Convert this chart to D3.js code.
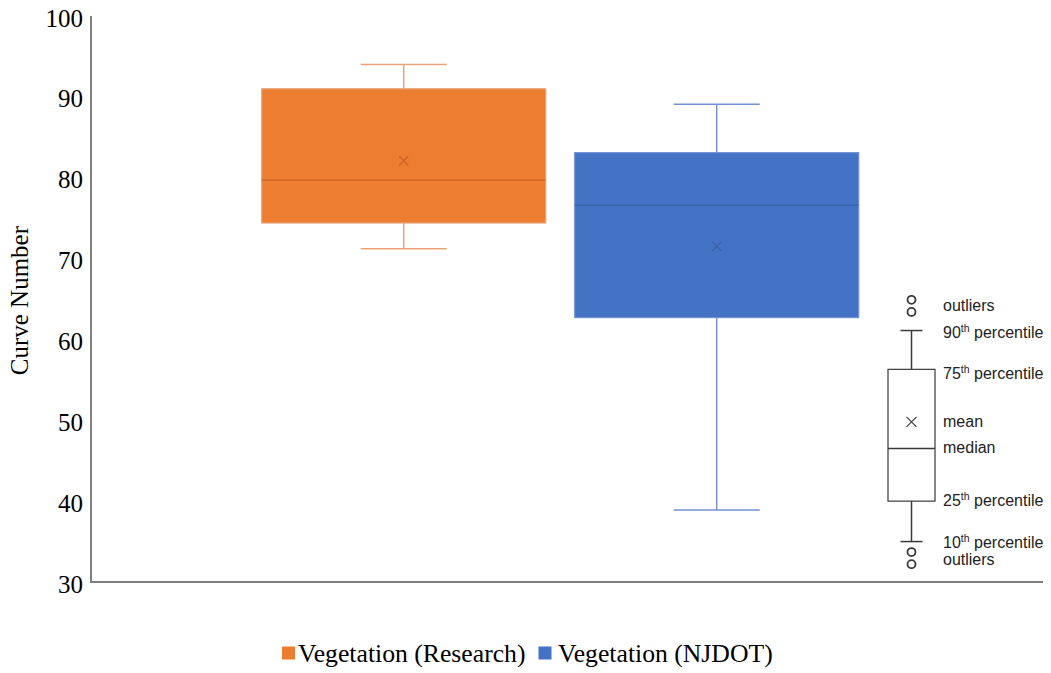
<!DOCTYPE html>
<html>
<head>
<meta charset="utf-8">
<script src="https://cdn.jsdelivr.net/npm/d3@7"></script>
<style>
  html, body { margin: 0; padding: 0; background: #ffffff; }
  svg { display: block; }
</style>
</head>
<body>
<svg id="chart" width="1051" height="673"></svg>
<script>
// ---------------- DATA ----------------
const series = ["Vegetation (Research)", "Vegetation (NJDOT)"];
const colors = ["#ED7D31", "#4472C4"];
const whiskerColors = ["#E9A376", "#7392CF"];
const lineDark = ["#CC6425", "#3A62A8"];
const whiskerLow = [71.2, 38.9];
const q1 = [74.4, 62.7];
const median = [79.7, 76.6];
const q3 = [91.0, 83.1];
const whiskerHigh = [94.0, 89.1];
const mean = [82.1, 71.5];
const yTicks = [30, 40, 50, 60, 70, 80, 90, 100];
const yLabel = "Curve Number";

// explanatory key (values on same y scale)
const keyOutliersHigh = [64.9, 63.4];
const keyP90 = 61.1, keyQ3 = 56.3, keyMean = 49.8, keyMedian = 46.5, keyQ1 = 40.0, keyP10 = 35.0;
const keyOutliersLow = [33.7, 32.2];
const keyLabels = [
  {v: 64.1, main: "outliers", sup: ""},
  {v: 60.8, main: "90", sup: "th", rest: " percentile"},
  {v: 55.7, main: "75", sup: "th", rest: " percentile"},
  {v: 49.8, main: "mean", sup: ""},
  {v: 46.6, main: "median", sup: ""},
  {v: 40.05, main: "25", sup: "th", rest: " percentile"},
  {v: 34.8, main: "10", sup: "th", rest: " percentile"},
  {v: 32.7, main: "outliers", sup: ""}
];

// ---------------- LAYOUT ----------------
const svg = d3.select("#chart");
const axisX = 91, axisRight = 1043;
const y = d3.scaleLinear().domain([30, 100]).range([582, 16]);
const x = d3.scaleBand().domain(series).range([247.2, 873.2]).paddingInner(0.0926).paddingOuter(0.0463);

// Axis lines
svg.append("line").attr("x1", axisX).attr("x2", axisX).attr("y1", y(100)).attr("y2", y(30))
  .attr("stroke", "#7f7f7f").attr("stroke-width", 2);
svg.append("line").attr("x1", axisX - 1).attr("x2", axisRight).attr("y1", y(30)).attr("y2", y(30))
  .attr("stroke", "#7f7f7f").attr("stroke-width", 2);

// Y axis tick labels
const yAxis = d3.axisLeft(y).tickValues(yTicks).tickSize(0).tickPadding(8).tickFormat(d3.format("d"));
const gy = svg.append("g").attr("transform", `translate(${axisX},0)`).call(yAxis);
gy.select(".domain").remove();
gy.selectAll("text")
  .attr("font-family", "'Liberation Serif', 'Times New Roman', serif")
  .attr("font-size", 25).attr("fill", "#000").attr("dy", "0.4em");

// Y label
svg.append("text")
  .attr("transform", `translate(28,${y(64.8)}) rotate(-90)`)
  .attr("text-anchor", "middle")
  .attr("font-family", "'Liberation Serif', 'Times New Roman', serif")
  .attr("font-size", 25).attr("fill", "#000")
  .text(yLabel);

// Boxes
const capHalf = 43;
series.forEach((s, i) => {
  const cx = x(s) + x.bandwidth() / 2;
  const g = svg.append("g");
  g.append("line").attr("x1", cx).attr("x2", cx).attr("y1", y(whiskerHigh[i])).attr("y2", y(q3[i]))
    .attr("stroke", whiskerColors[i]).attr("stroke-width", 1.5);
  g.append("line").attr("x1", cx).attr("x2", cx).attr("y1", y(q1[i])).attr("y2", y(whiskerLow[i]))
    .attr("stroke", whiskerColors[i]).attr("stroke-width", 1.5);
  g.append("line").attr("x1", cx - capHalf).attr("x2", cx + capHalf).attr("y1", y(whiskerHigh[i])).attr("y2", y(whiskerHigh[i]))
    .attr("stroke", whiskerColors[i]).attr("stroke-width", 1.5);
  g.append("line").attr("x1", cx - capHalf).attr("x2", cx + capHalf).attr("y1", y(whiskerLow[i])).attr("y2", y(whiskerLow[i]))
    .attr("stroke", whiskerColors[i]).attr("stroke-width", 1.5);
  g.append("rect").attr("x", x(s)).attr("width", x.bandwidth())
    .attr("y", y(q3[i])).attr("height", y(q1[i]) - y(q3[i]))
    .attr("fill", colors[i]).attr("stroke", whiskerColors[i]).attr("stroke-width", 1.2);
  g.append("line").attr("x1", x(s)).attr("x2", x(s) + x.bandwidth()).attr("y1", y(median[i])).attr("y2", y(median[i]))
    .attr("stroke", lineDark[i]).attr("stroke-width", 1.2);
  const m = 4.5, my = y(mean[i]);
  g.append("path").attr("d", `M${cx - m},${my - m}L${cx + m},${my + m}M${cx - m},${my + m}L${cx + m},${my - m}`)
    .attr("stroke", lineDark[i]).attr("stroke-width", 1.2).attr("fill", "none");
});

// Explanatory key
const kx = 911.5, kHalfBox = 23.5, kCap = 11;
const kg = svg.append("g").attr("stroke", "#3a3a3a").attr("fill", "none").attr("stroke-width", 1.5);
kg.append("line").attr("x1", kx).attr("x2", kx).attr("y1", y(keyP90)).attr("y2", y(keyQ3));
kg.append("line").attr("x1", kx).attr("x2", kx).attr("y1", y(keyQ1)).attr("y2", y(keyP10));
kg.append("line").attr("x1", kx - kCap).attr("x2", kx + kCap).attr("y1", y(keyP90)).attr("y2", y(keyP90));
kg.append("line").attr("x1", kx - kCap).attr("x2", kx + kCap).attr("y1", y(keyP10)).attr("y2", y(keyP10));
kg.append("rect").attr("x", kx - kHalfBox).attr("width", 2 * kHalfBox)
  .attr("y", y(keyQ3)).attr("height", y(keyQ1) - y(keyQ3)).attr("stroke-width", 1.2);
kg.append("line").attr("x1", kx - kHalfBox).attr("x2", kx + kHalfBox).attr("y1", y(keyMedian)).attr("y2", y(keyMedian));
{
  const m = 5, my = y(keyMean);
  kg.append("path").attr("d", `M${kx - m},${my - m}L${kx + m},${my + m}M${kx - m},${my + m}L${kx + m},${my - m}`)
    .attr("stroke-width", 1.1);
}
keyOutliersHigh.concat(keyOutliersLow).forEach(v => {
  kg.append("circle").attr("cx", kx).attr("cy", y(v)).attr("r", 4).attr("stroke-width", 1.8);
});
const kt = svg.append("g")
  .attr("font-family", "'Liberation Sans', Arial, sans-serif")
  .attr("font-size", 16).attr("fill", "#222");
keyLabels.forEach(l => {
  const t = kt.append("text").attr("x", 943).attr("y", y(l.v) + 5);
  t.append("tspan").text(l.main);
  if (l.sup) {
    t.append("tspan").attr("dy", -6).attr("font-size", 10.5).text(l.sup);
    t.append("tspan").attr("dy", 6).text(l.rest);
  }
});

// Legend
const legendItems = [
  {x: 282, tx: 298},
  {x: 538.5, tx: 558}
];
const lg = svg.append("g");
series.forEach((s, i) => {
  lg.append("rect").attr("x", legendItems[i].x).attr("y", 646.5).attr("width", 13).attr("height", 13)
    .attr("fill", colors[i]);
  lg.append("text").attr("x", legendItems[i].tx).attr("y", 662)
    .attr("font-family", "'Liberation Serif', 'Times New Roman', serif")
    .attr("font-size", 25.7).attr("fill", "#000").text(s);
});
</script>
</body>
</html>
